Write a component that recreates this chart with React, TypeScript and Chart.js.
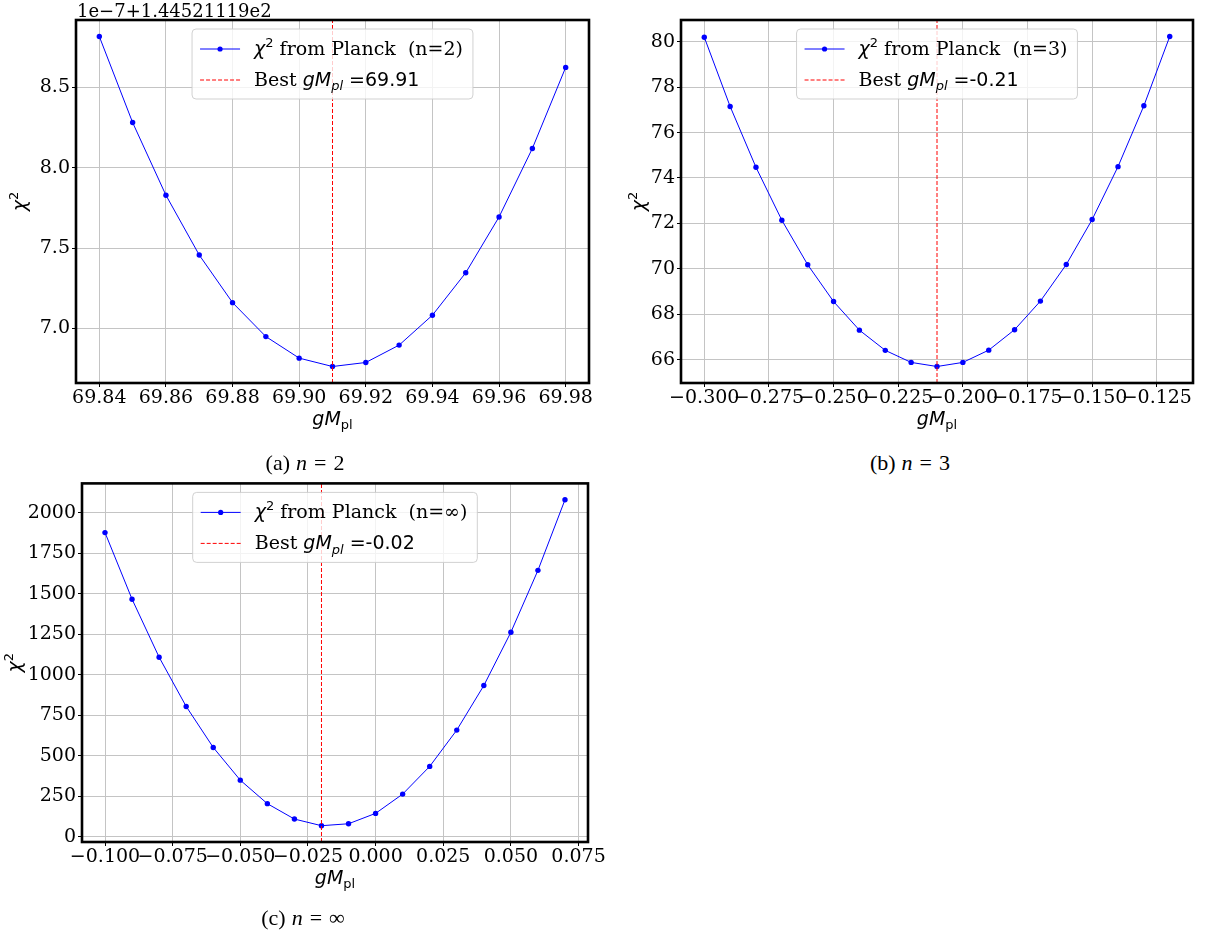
import React, { useEffect, useRef } from "react";
import { Chart, registerables } from "chart.js";

Chart.register(...registerables);

// ---------------- Data ----------------
// (a) n = 2  — chi^2 values shown as offset: value × 1e-7 + 144.521119
const gMplN2 = [69.84, 69.85, 69.86, 69.87, 69.88, 69.89, 69.9, 69.91, 69.92, 69.93, 69.94, 69.95, 69.96, 69.97, 69.98];
const chi2N2 = [8.816, 8.281, 7.829, 7.457, 7.161, 6.95, 6.816, 6.764, 6.789, 6.897, 7.083, 7.347, 7.694, 8.12, 8.624];
const bestN2 = 69.91;
const bestN2Text = "69.91";
const xTicksN2 = [69.84, 69.86, 69.88, 69.9, 69.92, 69.94, 69.96, 69.98];
const yTicksN2 = [7.0, 7.5, 8.0, 8.5];
const offsetTextN2 = "1e\u22127+1.44521119e2";

// (b) n = 3
const gMplN3 = [-0.3, -0.29, -0.28, -0.27, -0.26, -0.25, -0.24, -0.23, -0.22, -0.21, -0.2, -0.19, -0.18, -0.17, -0.16, -0.15, -0.14, -0.13, -0.12];
const chi2N3 = [80.2, 77.15, 74.47, 72.14, 70.18, 68.56, 67.3, 66.41, 65.88, 65.7, 65.88, 66.42, 67.32, 68.58, 70.19, 72.17, 74.5, 77.18, 80.23];
const bestN3 = -0.21;
const bestN3Text = "-0.21";
const xTicksN3 = [-0.3, -0.275, -0.25, -0.225, -0.2, -0.175, -0.15, -0.125];
const yTicksN3 = [66, 68, 70, 72, 74, 76, 78, 80];

// (c) n = ∞
const gMplInf = [-0.1, -0.09, -0.08, -0.07, -0.06, -0.05, -0.04, -0.03, -0.02, -0.01, 0.0, 0.01, 0.02, 0.03, 0.04, 0.05, 0.06, 0.07];
const chi2Inf = [1877, 1466, 1108, 804, 551, 349, 204, 109, 68, 80, 144, 263, 434, 658, 933, 1262, 1644, 2080];
const bestInf = -0.02;
const bestInfText = "-0.02";
const xTicksInf = [-0.1, -0.075, -0.05, -0.025, 0, 0.025, 0.05, 0.075];
const yTicksInf = [0, 250, 500, 750, 1000, 1250, 1500, 1750, 2000];

// ---------------- Styling helpers ----------------
const FS = 19;
const SERIF = '"DejaVu Serif"';
const SANS = '"DejaVu Sans"';
const fSerif = `${FS}px ${SERIF}`;
const fSans = `${FS}px ${SANS}`;
const fSansIt = `italic ${FS}px ${SANS}`;
const fSmall = `${Math.round(FS * 0.7)}px ${SANS}`;
const fSmallIt = `italic ${Math.round(FS * 0.7)}px ${SANS}`;

type Seg = { t: string; f: string; dy?: number };

const chiSegs = (rest: string): Seg[] => [
  { t: "\u03c7", f: fSansIt },
  { t: "2", f: fSmall, dy: -0.42 * FS },
  { t: rest, f: fSerif },
];
const bestSegs = (v: string): Seg[] => [
  { t: "Best ", f: fSerif },
  { t: "gM", f: fSansIt },
  { t: "pl", f: fSmallIt, dy: 0.22 * FS },
  { t: " =" + v, f: fSans },
];
const xLabelSegs: Seg[] = [
  { t: "gM", f: fSansIt },
  { t: "pl", f: fSmall, dy: 0.22 * FS },
];
const yLabelSegs: Seg[] = [
  { t: "\u03c7", f: fSansIt },
  { t: "2", f: fSmall, dy: -0.42 * FS },
];

function richWidth(ctx: CanvasRenderingContext2D, segs: Seg[]) {
  let w = 0;
  for (const s of segs) {
    ctx.font = s.f;
    w += ctx.measureText(s.t).width;
  }
  return w;
}
function drawRich(ctx: CanvasRenderingContext2D, segs: Seg[], x: number, y: number, align: "left" | "center") {
  let cx = align === "center" ? x - richWidth(ctx, segs) / 2 : x;
  ctx.textAlign = "left";
  ctx.textBaseline = "alphabetic";
  for (const s of segs) {
    ctx.font = s.f;
    ctx.fillText(s.t, cx, y + (s.dy || 0));
    cx += ctx.measureText(s.t).width;
  }
}

const minus = (s: string) => s.replace("-", "\u2212");

type Spec = {
  key: string;
  left: number;
  top: number;
  width: number;
  height: number;
  area: { left: number; top: number; right: number; bottom: number };
  xs: number[];
  ys: number[];
  best: number;
  xTicks: number[];
  yTicks: number[];
  fmtX: (v: number) => string;
  fmtY: (v: number) => string;
  series: Seg[];
  bestLabel: Seg[];
  seriesName: string;
  bestName: string;
  yLabelGap: number;
  offsetText?: string;
};

function padRange(vals: number[]) {
  const lo = Math.min(...vals);
  const hi = Math.max(...vals);
  const m = (hi - lo) * 0.05;
  return [lo - m, hi + m];
}

function buildConfig(spec: Spec): any {
  const [xMin, xMax] = padRange(spec.xs);
  const [yMin, yMax] = padRange(spec.ys);
  const a = spec.area;

  const decor = {
    id: "decor",
    afterDraw(chart: any) {
      const ctx: CanvasRenderingContext2D = chart.ctx;
      const ca = chart.chartArea;
      ctx.save();
      // legend
      const tw = Math.max(richWidth(ctx, spec.series), richWidth(ctx, spec.bestLabel));
      const w = 8 + 40 + 14 + tw + 10;
      const h = 70;
      const lx = (ca.left + ca.right) / 2 - w / 2;
      const ly = ca.top + 9;
      ctx.beginPath();
      (ctx as any).roundRect(lx, ly, w, h, 4);
      ctx.fillStyle = "rgba(255,255,255,0.8)";
      ctx.fill();
      ctx.strokeStyle = "rgba(204,204,204,0.9)";
      ctx.lineWidth = 1;
      ctx.stroke();
      const r1 = ly + 20;
      const r2 = ly + 51;
      ctx.strokeStyle = "#0000ff";
      ctx.lineWidth = 1;
      ctx.beginPath();
      ctx.moveTo(lx + 8, r1);
      ctx.lineTo(lx + 48, r1);
      ctx.stroke();
      ctx.fillStyle = "#0000ff";
      ctx.beginPath();
      ctx.arc(lx + 28, r1, 2.6, 0, Math.PI * 2);
      ctx.fill();
      ctx.strokeStyle = "#ff0000";
      ctx.setLineDash([4, 2]);
      ctx.beginPath();
      ctx.moveTo(lx + 8, r2);
      ctx.lineTo(lx + 48, r2);
      ctx.stroke();
      ctx.setLineDash([]);
      ctx.fillStyle = "#000";
      drawRich(ctx, spec.series, lx + 62, r1 + 6, "left");
      drawRich(ctx, spec.bestLabel, lx + 62, r2 + 6, "left");
      // frame
      ctx.strokeStyle = "#000";
      ctx.lineWidth = 2.6;
      ctx.strokeRect(ca.left, ca.top, ca.right - ca.left, ca.bottom - ca.top);
      // axis labels
      ctx.fillStyle = "#000";
      drawRich(ctx, xLabelSegs, (ca.left + ca.right) / 2, ca.bottom + 42, "center");
      ctx.save();
      ctx.translate(ca.left - spec.yLabelGap, (ca.top + ca.bottom) / 2);
      ctx.rotate(-Math.PI / 2);
      drawRich(ctx, yLabelSegs, 0, 0, "center");
      ctx.restore();
      if (spec.offsetText) {
        ctx.font = `18px ${SERIF}`;
        ctx.textAlign = "left";
        ctx.textBaseline = "alphabetic";
        ctx.fillText(spec.offsetText, ca.left + 1, ca.top - 3);
      }
      ctx.restore();
    },
  };

  const tickFont = { family: "DejaVu Serif", size: FS };
  return {
    type: "line",
    data: {
      datasets: [
        {
          label: spec.seriesName,
          data: spec.xs.map((x, i) => ({ x, y: spec.ys[i] })),
          borderColor: "#0000ff",
          backgroundColor: "#0000ff",
          pointBackgroundColor: "#0000ff",
          pointBorderWidth: 0,
          pointRadius: 2.7,
          borderWidth: 1,
          tension: 0,
          order: 1,
        },
        {
          label: spec.bestName,
          data: [
            { x: spec.best, y: yMin },
            { x: spec.best, y: yMax },
          ],
          borderColor: "#ff0000",
          borderWidth: 1,
          borderDash: [4, 2],
          pointRadius: 0,
          order: 0,
        },
      ],
    },
    options: {
      responsive: false,
      animation: false,
      layout: { padding: { left: 0, top: a.top, right: spec.width - a.right, bottom: 0 } },
      plugins: { legend: { display: false }, tooltip: { enabled: false } },
      scales: {
        x: {
          type: "linear",
          min: xMin,
          max: xMax,
          afterBuildTicks: (s: any) => {
            s.ticks = spec.xTicks.map((v) => ({ value: v }));
          },
          afterFit: (s: any) => {
            s.height = spec.height - a.bottom;
          },
          border: { display: false },
          grid: { color: "#c4c4c4", lineWidth: 1, tickColor: "#000", tickLength: 4, tickWidth: 1 },
          ticks: {
            autoSkip: false,
            maxRotation: 0,
            minRotation: 0,
            padding: 0,
            color: "#000",
            font: tickFont,
            callback: (v: number) => spec.fmtX(v),
          },
        },
        y: {
          type: "linear",
          min: yMin,
          max: yMax,
          afterBuildTicks: (s: any) => {
            s.ticks = spec.yTicks.map((v) => ({ value: v }));
          },
          afterFit: (s: any) => {
            s.width = a.left;
          },
          border: { display: false },
          grid: { color: "#c4c4c4", lineWidth: 1, tickColor: "#000", tickLength: 4, tickWidth: 1 },
          ticks: {
            autoSkip: false,
            padding: 2,
            color: "#000",
            font: tickFont,
            callback: (v: number) => spec.fmtY(v),
          },
        },
      },
    },
    plugins: [decor],
  };
}

const specs: Spec[] = [
  {
    key: "a",
    left: 0,
    top: 0,
    width: 600,
    height: 440,
    area: { left: 76, top: 20, right: 589, bottom: 383 },
    xs: gMplN2,
    ys: chi2N2,
    best: bestN2,
    xTicks: xTicksN2,
    yTicks: yTicksN2,
    fmtX: (v) => v.toFixed(2),
    fmtY: (v) => v.toFixed(1),
    series: chiSegs(" from Planck  (n=2)"),
    bestLabel: bestSegs(bestN2Text),
    seriesName: "\u03c7\u00b2 from Planck  (n=2)",
    bestName: "Best gM_pl =" + bestN2Text,
    yLabelGap: 50,
    offsetText: offsetTextN2,
  },
  {
    key: "b",
    left: 605,
    top: 0,
    width: 602,
    height: 440,
    area: { left: 76, top: 20, right: 588, bottom: 383 },
    xs: gMplN3,
    ys: chi2N3,
    best: bestN3,
    xTicks: xTicksN3,
    yTicks: yTicksN3,
    fmtX: (v) => minus(v.toFixed(3)),
    fmtY: (v) => String(Math.round(v)),
    series: chiSegs(" from Planck  (n=3)"),
    bestLabel: bestSegs(bestN3Text),
    seriesName: "\u03c7\u00b2 from Planck  (n=3)",
    bestName: "Best gM_pl =" + bestN3Text,
    yLabelGap: 36,
  },
  {
    key: "c",
    left: 0,
    top: 470,
    width: 620,
    height: 440,
    area: { left: 82, top: 13, right: 588, bottom: 372 },
    xs: gMplInf,
    ys: chi2Inf,
    best: bestInf,
    xTicks: xTicksInf,
    yTicks: yTicksInf,
    fmtX: (v) => minus(v.toFixed(3)),
    fmtY: (v) => String(Math.round(v)),
    series: chiSegs(" from Planck  (n=\u221e)"),
    bestLabel: bestSegs(bestInfText),
    seriesName: "\u03c7\u00b2 from Planck  (n=\u221e)",
    bestName: "Best gM_pl =" + bestInfText,
    yLabelGap: 61,
  },
];

function Panel({ spec }: { spec: Spec }) {
  const ref = useRef<HTMLCanvasElement>(null);
  useEffect(() => {
    const chart = new Chart(ref.current as HTMLCanvasElement, buildConfig(spec));
    return () => chart.destroy();
  }, []);
  return (
    <canvas
      ref={ref}
      width={spec.width}
      height={spec.height}
      style={{ position: "absolute", left: spec.left, top: spec.top, width: spec.width, height: spec.height }}
    />
  );
}

const captions = [
  { label: "(a)", sym: "2", cx: 305, cy: 463 },
  { label: "(b)", sym: "3", cx: 910, cy: 463 },
  { label: "(c)", sym: "\u221e", cx: 303, cy: 918 },
];

export default function App() {
  return (
    <div style={{ position: "absolute", left: 0, top: 0, width: 1207, height: 939, background: "#fff", overflow: "hidden" }}>
      {specs.map((s) => (
        <Panel key={s.key} spec={s} />
      ))}
      {captions.map((c) => (
        <div
          key={c.label}
          style={{
            position: "absolute",
            left: c.cx - 100,
            top: c.cy - 13,
            width: 200,
            textAlign: "center",
            fontFamily: '"Liberation Serif", serif',
            fontSize: 22,
            lineHeight: "26px",
            color: "#000",
            whiteSpace: "pre",
          }}
        >
          <span style={{ marginRight: 6 }}>{c.label}</span>
          <i>n</i>
          <span style={{ margin: "0 7px" }}>=</span>
          <span>{c.sym}</span>
        </div>
      ))}
    </div>
  );
}
